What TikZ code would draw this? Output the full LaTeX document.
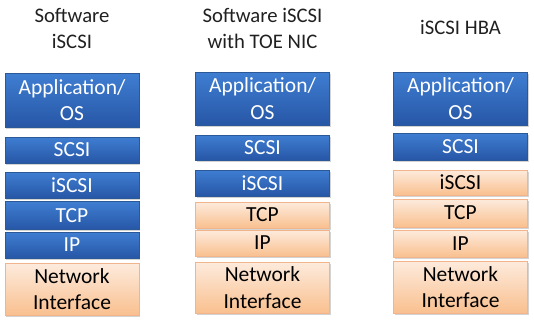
\documentclass[tikz,border=0pt]{standalone}
\usepackage{fontspec}
\setmainfont{Carlito}
\usetikzlibrary{shadows}
\definecolor{bluetop}{HTML}{3F7ED2}
\definecolor{bluebot}{HTML}{2756A6}
\definecolor{blueedge}{HTML}{2A5898}
\definecolor{ortop}{HTML}{FDEBDD}
\definecolor{orbot}{HTML}{F9C08F}
\definecolor{oredge}{HTML}{F2B48A}
\definecolor{titlecol}{HTML}{202020}
\tikzset{
  layer/.style={minimum width=134pt, inner sep=0pt, align=center, font=\fontsize{21.5}{26.5}\selectfont,
    drop shadow={opacity=0.35, shadow xshift=1pt, shadow yshift=-1.5pt}},
  bluebox/.style={layer, top color=bluetop, bottom color=bluebot, draw=blueedge, line width=0.6pt, text=white},
  orbox/.style={layer, top color=ortop, bottom color=orbot, draw=oredge, line width=0.6pt, text=black},
  coltitle/.style={align=center, font=\fontsize{20.7}{26}\selectfont, text=titlecol},
}
\begin{document}
\begin{tikzpicture}[x=1pt,y=-1pt]
\useasboundingbox (0,0) rectangle (534,319);
% titles
\node[coltitle] (t1) at (72,28) {Software\\iSCSI};
\node[coltitle] (t2) at (262.5,28) {Software iSCSI\\with TOE NIC};
\node[coltitle] (t3) at (460.5,27) {iSCSI HBA};
% column 1
\node[bluebox, minimum height=54pt] (a1) at (72,100) {Application/\\OS};
\node[bluebox, minimum height=26pt] (s1) at (72,150) {SCSI};
\node[bluebox, minimum height=26pt] (i1) at (72,185) {iSCSI};
\node[bluebox, minimum height=28pt] (c1) at (72,215.5) {TCP};
\node[bluebox, minimum height=26pt] (p1) at (72,245) {IP};
\node[orbox, minimum height=52pt] (n1) at (72,289) {Network\\Interface};
% column 2
\node[bluebox, minimum height=53pt] (a2) at (262.5,98.5) {Application/\\OS};
\node[bluebox, minimum height=25pt] (s2) at (262.5,147.5) {SCSI};
\node[bluebox, minimum height=26pt] (i2) at (262.5,183) {iSCSI};
\node[orbox, minimum height=26pt] (c2) at (262.5,215) {TCP};
\node[orbox, minimum height=26pt] (p2) at (262.5,243) {IP};
\node[orbox, minimum height=51pt] (n2) at (262.5,287.5) {Network\\Interface};
% column 3
\node[bluebox, minimum height=53pt] (a3) at (460.5,98.5) {Application/\\OS};
\node[bluebox, minimum height=27pt] (s3) at (460.5,146.5) {SCSI};
\node[orbox, minimum height=25pt] (i3) at (460.5,182.5) {iSCSI};
\node[orbox, minimum height=28pt] (c3) at (460.5,213) {TCP};
\node[orbox, minimum height=27pt] (p3) at (460.5,243.5) {IP};
\node[orbox, minimum height=52pt] (n3) at (460.5,287) {Network\\Interface};
\end{tikzpicture}
\end{document}
